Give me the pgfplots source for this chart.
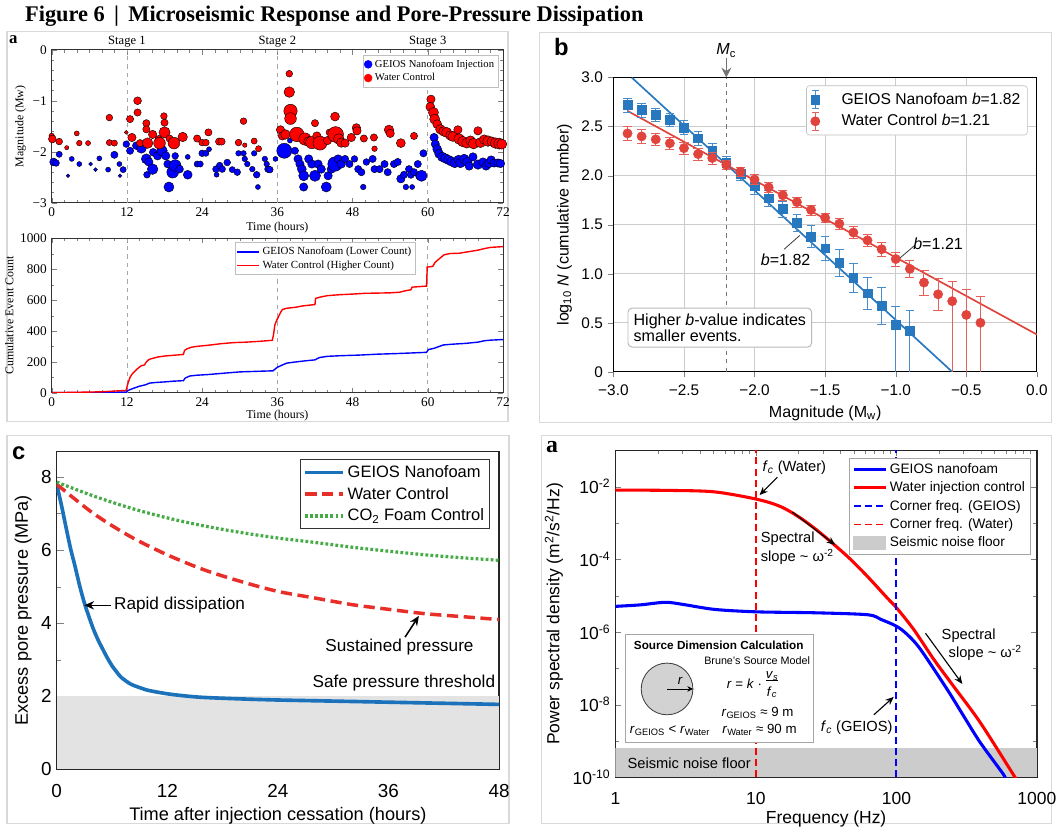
\documentclass[border=0pt]{standalone}
\usepackage{pgfplots}
\pgfplotsset{compat=1.18}
\usepackage{pgfplotstable}
\usepackage{fontspec}
\setmainfont{Liberation Sans}
\newfontfamily\tnr{Liberation Serif}
\usetikzlibrary{arrows.meta}
\definecolor{bblue}{RGB}{40,120,192}
\definecolor{bred}{RGB}{224,68,60}
\definecolor{cblue}{RGB}{28,114,186}
\definecolor{cred}{RGB}{232,46,40}
\definecolor{cgreen}{RGB}{70,170,70}
\newcommand{\fs}[1]{\fontsize{#1}{#1}\selectfont}
\pgfplotsset{errleg/.style={legend image code/.code={%
  \draw[#1!85, line width=0.7pt] (0.3cm,-2.2mm) -- (0.3cm,2.2mm) (0.22cm,-2.2mm) -- (0.38cm,-2.2mm) (0.22cm,2.2mm) -- (0.38cm,2.2mm);
  \draw[mark repeat=2,mark phase=2,##1] plot coordinates {(0cm,0cm) (0.3cm,0cm) (0.6cm,0cm)};}}}

\pgfplotstableread{
x y s
0 -1.69 2
0.1 -1.75 2.8
1.2 -1.80 2.4
2.4 -1.92 1.5
4.0 -1.64 1.8
4.4 -1.83 2
5.8 -1.83 1.8
9.2 -1.33 2.4
9.2 -1.82 2.2
10.0 -1.83 2.2
11.9 -1.62 1.4
12.5 -1.36 2.6
12.8 -1.72 3
13.7 -1.00 2.8
13.7 -1.23 2.6
14.1 -1.83 2.6
15.1 -1.44 2.6
15.1 -1.56 2.6
15.3 -1.83 3.8
16.1 -1.66 3
17.1 -1.75 2.6
17.2 -1.83 4.2
17.9 -1.30 2.4
18.0 -1.43 2.6
18.0 -1.62 4
18.8 -1.74 2.6
19.5 -1.83 4.2
20.9 -1.71 3.4
23.2 -1.74 2.6
24.0 -1.82 2.4
24.6 -1.82 2.4
25.0 -1.62 2.6
26.7 -1.80 2.6
27.1 -1.80 2.6
29.8 -1.82 2.4
30.6 -1.40 2.4
30.8 -1.87 1.6
32.3 -1.79 2.2
33.0 -1.94 2.2
36.5 -1.57 3
36.8 -1.69 3
37.3 -1.66 3.4
37.9 -0.47 2.4
37.9 -0.83 3.8
38.1 -1.20 4.8
38.1 -1.35 4.2
39.1 -1.66 5.2
40.4 -1.75 4.4
41.0 -1.80 3.6
41.5 -1.82 4.4
42.0 -1.44 2.6
42.3 -1.69 3
42.8 -1.83 5
44.0 -1.78 3
44.3 -1.62 2.4
45.2 -1.31 3.2
45.3 -1.66 5.6
45.8 -1.75 3.8
46.2 -1.82 3.4
46.8 -1.83 3
47.8 -1.72 3
48.6 -1.53 3
48.7 -1.59 3
49.8 -1.74 2.6
51.4 -1.72 2.6
51.5 -1.94 2
53.8 -1.57 3.4
54.0 -1.64 3
55.7 -1.83 3.2
57.8 -1.69 2.6
60.5 -0.97 3
60.4 -1.12 3.2
60.9 -1.23 3.6
61.1 -1.36 3.6
61.5 -1.46 3.2
62.0 -1.56 3.4
62.5 -1.60 3.4
63.0 -1.62 3.6
63.6 -1.68 3.4
64.0 -1.70 3.6
64.8 -1.57 3
65.0 -1.75 3.8
65.6 -1.80 3.8
66.2 -1.83 3.6
66.8 -1.78 3.4
67.3 -1.84 3.8
68.0 -1.59 3
68.4 -1.82 3.6
69.0 -1.76 3.4
69.6 -1.79 3.8
70.2 -1.80 3.4
70.8 -1.83 3.8
71.4 -1.84 4
71.8 -1.85 3.6
}\redpts

\pgfplotstableread{
x y s
0.3 -2.20 2.8
0.7 -2.22 2.4
1.2 -2.05 2.2
2.6 -2.47 1.3
3.2 -2.14 1.8
4.4 -2.24 1.8
6.2 -2.24 1.4
7.0 -2.35 1.4
7.6 -2.13 1.8
9.0 -2.35 1.8
10.0 -2.06 2.6
10.8 -2.24 1.8
10.9 -2.47 1.3
11.4 -2.35 2.2
11.9 -1.85 2.4
12.5 -1.98 2.6
13.5 -1.88 2.8
14.3 -1.93 3.6
15.1 -2.14 3.6
15.2 -2.45 2.4
15.5 -2.20 3
16.1 -2.34 3.8
16.2 -2.01 2.8
16.9 -2.08 3
17.6 -1.98 3.8
18.2 -2.08 3
18.5 -2.24 2.8
18.7 -2.69 3.6
19.3 -2.40 4.2
19.7 -2.27 4.2
19.7 -2.08 2.4
20.4 -2.34 2.8
21.7 -2.45 3.2
21.7 -2.10 1.8
23.2 -2.24 2.2
23.7 -2.24 2.2
24.0 -2.03 2.4
24.6 -2.03 2.2
25.1 -1.95 1.8
26.2 -2.34 2.4
26.3 -2.45 1.8
26.8 -2.27 2.4
27.2 -2.34 2.4
28.0 -2.21 2.4
28.8 -2.35 2.2
29.6 -2.40 2.4
29.8 -2.03 2
30.6 -2.03 2
30.8 -2.14 2
31.2 -2.24 2
32.0 -2.34 2
32.3 -2.03 2
32.7 -2.45 2.4
32.9 -2.69 1.8
34.0 -2.14 2
34.3 -2.24 2
34.5 -2.34 2.4
34.8 -2.35 2.4
35.7 -2.14 1.8
37.1 -1.98 5.4
38.0 -1.78 1.8
38.8 -1.98 2.6
39.3 -2.14 3
39.6 -2.24 3
39.9 -2.34 3.2
40.2 -2.47 3.6
40.2 -2.69 3
41.0 -2.14 3
41.5 -2.24 3
42.0 -2.47 4
42.5 -2.24 3
43.0 -2.34 3
43.8 -2.69 3.6
44.1 -2.47 3
44.6 -2.34 3
45.2 -2.24 5.2
45.7 -2.14 3
46.2 -2.24 3
46.8 -2.14 2.6
47.5 -2.24 2.6
48.3 -2.14 2.4
48.9 -2.34 2.6
49.4 -2.40 2.6
49.7 -2.69 2
50.2 -2.20 2.4
51.2 -2.14 2.6
51.5 -2.34 2.6
52.3 -2.34 2.6
53.1 -2.24 2.6
53.6 -2.40 2.6
54.6 -2.24 2.6
55.2 -2.20 2.6
55.7 -2.53 3
56.2 -2.45 2.6
56.5 -2.69 2
57.0 -2.34 2.6
57.3 -2.45 2.6
57.5 -2.69 1.8
57.8 -2.40 2.6
58.4 -2.24 2.6
58.7 -2.47 3
59.0 -2.47 4
59.3 -2.03 2.6
61.0 -1.72 3
61.2 -1.85 3
61.5 -1.95 3.2
61.8 -2.04 3.2
62.3 -2.10 3.4
62.8 -2.13 3.4
63.3 -2.16 3.4
63.8 -2.19 3.4
64.3 -2.22 3.4
64.9 -2.16 3.4
65.2 -2.22 3.4
65.8 -2.14 3.4
66.3 -2.20 3.4
66.6 -2.28 3
67.2 -2.10 3
68.0 -2.25 3.4
68.8 -2.20 3
69.3 -2.28 3
69.8 -2.22 3.4
70.1 -2.16 3
70.6 -2.22 3
71.2 -2.22 3
71.6 -2.23 3
}\bluepts

\pgfplotstableread{
x y
0 0
6 4
8 6
11.9 15
12.05 45
12.2 65
12.5 100
12.9 125
13.3 140
13.8 160
14.3 175
14.8 180
15.1 200
15.5 215
16 222
17 232
18 238
19.5 243
21 248
21.2 275
21.6 285
22.3 295
23 300
25 308
27 318
29 325
31 328
33 333
35.2 340
35.4 380
35.6 440
35.9 470
36.2 495
36.5 520
36.8 540
37.5 548
39 555
40 563
42 572
42.1 612
43 622
44 630
46 636
48 640
50 645
54 648
55.5 652
56.5 662
57.3 668
57.5 685
59.8 692
59.9 815
60.8 820
61.1 842
61.5 858
62 875
62.6 895
63.5 903
65 905
66.5 915
68 925
69 935
70 943
72 948
}\redcum

\pgfplotstableread{
x y
0 0
6 1
11.9 4
12.2 15
13 28
14 42
15 52
15.6 62
16.5 66
18 70
19.5 75
21 78
21.3 95
22 108
23 113
25 118
27 125
30 135
33 139
35.3 142
36 165
36.8 180
37.5 192
39 200
40.5 207
42 213
42.7 228
44 236
46 240
49 244
52 250
55 254
57.5 258
59.8 262
60.1 280
61 288
61.8 300
62.5 310
64 315
66 320
68 328
69 337
70 341
72 345
}\bluecum

\pgfplotstableread{
x y ep em
-2.9 2.72 0.07 0.07
-2.8 2.67 0.07 0.07
-2.7 2.62 0.07 0.07
-2.6 2.57 0.07 0.07
-2.5 2.49 0.07 0.07
-2.4 2.38 0.07 0.07
-2.3 2.26 0.07 0.07
-2.2 2.13 0.07 0.07
-2.1 2.02 0.07 0.07
-2.0 1.89 0.08 0.08
-1.9 1.77 0.08 0.08
-1.8 1.66 0.08 0.08
-1.7 1.52 0.09 0.09
-1.6 1.38 0.11 0.11
-1.5 1.26 0.12 0.12
-1.4 1.11 0.14 0.14
-1.3 0.96 0.15 0.15
-1.2 0.80 0.16 0.16
-1.1 0.67 0.19 0.19
-1.0 0.48 0.19 0.48
-0.9 0.42 0.21 0.42
}\bgeios

\pgfplotstableread{
x y ep em
-2.9 2.43 0.07 0.07
-2.8 2.40 0.07 0.07
-2.7 2.37 0.06 0.06
-2.6 2.33 0.06 0.06
-2.5 2.28 0.06 0.06
-2.4 2.22 0.06 0.06
-2.3 2.18 0.06 0.06
-2.2 2.11 0.05 0.05
-2.1 2.04 0.05 0.05
-2.0 1.96 0.05 0.05
-1.9 1.88 0.05 0.05
-1.8 1.80 0.05 0.05
-1.7 1.73 0.05 0.05
-1.6 1.65 0.05 0.05
-1.5 1.57 0.05 0.05
-1.4 1.51 0.06 0.06
-1.3 1.42 0.06 0.06
-1.2 1.34 0.06 0.06
-1.1 1.25 0.07 0.07
-1.0 1.15 0.07 0.07
-0.9 1.05 0.09 0.09
-0.8 0.91 0.13 0.13
-0.7 0.79 0.16 0.16
-0.6 0.72 0.20 0.72
-0.5 0.58 0.26 0.58
-0.4 0.50 0.27 0.50
}\bwater

\begin{document}
\begin{tikzpicture}
\begin{scope}[x=0.25mm,y=-0.25mm]
\useasboundingbox (0,0) rectangle (1061,829);
% panel frames
\draw[gray!30, line width=0.8pt] (7,32) rectangle (511,424);
\draw[gray!30, line width=0.8pt] (543,33) rectangle (1058,425);
\draw[gray!30, line width=0.8pt] (7,438) rectangle (512,828.6);
\draw[gray!30, line width=0.8pt] (545,438) rectangle (1058,828.6);
% title
\node[anchor=base west, font=\tnr\bfseries\fs{16}, inner sep=0] at (25,22) {Figure 6 \,|\, Microseismic Response and Pore-Pressure Dissipation};
% panel letters
\node[anchor=base west, font=\tnr\bfseries\fs{12}, inner sep=0] at (9,44) {a};
\node[anchor=base west, font=\bfseries\fs{17}, inner sep=0] at (557,56) {b};
\node[anchor=base west, font=\bfseries\fs{17}, inner sep=0] at (12,462) {c};
\node[anchor=base west, font=\tnr\bfseries\fs{17}, inner sep=0] at (549,455) {a};
\end{scope}

%================ Panel a (top) ================
\begin{axis}[at={(13mm,-12.5mm)}, anchor=north west, scale only axis,
  width=113.5mm, height=38.5mm,
  xmin=0, xmax=72, ymin=-3, ymax=0,
  xtick={0,12,...,72}, xticklabels={0,12,24,36,48,60,72},
  ytick={-3,-2,-1,0}, yticklabels={−3,−2,−1,0},
  minor x tick num=5, minor y tick num=4,
  tick align=inside, tick pos=both,
  major tick length=3.5pt, minor tick length=2pt,
  ticklabel style={font=\tnr\fs{9.5}},
  xlabel={Time (hours)}, ylabel={Magnitude (Mw)},
  label style={font=\tnr\fs{8.5}},
  xlabel style={yshift=3pt}, ylabel style={yshift=-2pt},
  axis line style={black!80, line width=0.6pt},
  clip mode=individual,
  legend style={at={(0.99,0.965)}, anchor=north east, font=\tnr\fs{7.6}, draw=gray!50, inner sep=1pt, row sep=-1pt},
  legend cell align=left]
\addlegendimage{only marks, mark=*, mark size=2.8pt, mark options={fill=blue, draw=blue}}
\addlegendentry{GEIOS Nanofoam Injection}
\addlegendimage{only marks, mark=*, mark size=2.8pt, mark options={fill=red, draw=red}}
\addlegendentry{Water Control}
\draw[gray!70, dashed, line width=0.6pt] (axis cs:12,-3) -- (axis cs:12,0);
\draw[gray!70, dashed, line width=0.6pt] (axis cs:36,-3) -- (axis cs:36,0);
\draw[gray!70, dashed, line width=0.6pt] (axis cs:60,-3) -- (axis cs:60,0);
\addplot[scatter, only marks, mark=*, forget plot,
  scatter/use mapped color={draw=black, fill=blue},
  visualization depends on={\thisrow{s}\as\msz},
  scatter/@pre marker code/.append style={/tikz/mark size=\msz},
  mark options={line width=0.3pt}] table[x=x,y=y] \bluepts;
\addplot[scatter, only marks, mark=*, forget plot,
  scatter/use mapped color={draw=black, fill=red},
  visualization depends on={\thisrow{s}\as\msz},
  scatter/@pre marker code/.append style={/tikz/mark size=\msz},
  mark options={line width=0.3pt}] table[x=x,y=y] \redpts;
\node[font=\tnr\fs{9}, anchor=base] at (axis cs:12,0.1) {Stage 1};
\node[font=\tnr\fs{9}, anchor=base] at (axis cs:36,0.1) {Stage 2};
\node[font=\tnr\fs{9}, anchor=base] at (axis cs:60,0.1) {Stage 3};
\end{axis}

%================ Panel a (bottom) ================
\begin{axis}[at={(13mm,-60mm)}, anchor=north west, scale only axis,
  width=113.5mm, height=38.75mm,
  xmin=0, xmax=72, ymin=0, ymax=1000,
  xtick={0,12,...,72}, xticklabels={0,12,24,36,48,60,72},
  ytick={0,200,...,1000}, yticklabels={0,200,400,600,800,1000},
  minor x tick num=5, minor y tick num=1,
  tick align=inside, tick pos=both,
  major tick length=3.5pt, minor tick length=2pt,
  ticklabel style={font=\tnr\fs{9.5}},
  xlabel={Time (hours)}, ylabel={Cumulative Event Count},
  label style={font=\tnr\fs{8.5}},
  xlabel style={yshift=4pt}, ylabel style={yshift=-2pt},
  axis line style={black!80, line width=0.6pt},
  clip mode=individual,
  legend style={at={(0.606,0.975)}, anchor=north, font=\tnr\fs{7.8}, draw=gray!50, inner sep=1pt, row sep=-1pt},
  legend cell align=left,
  legend image code/.code={\draw[#1] (0mm,0mm) -- (5.5mm,0mm);}]
\draw[gray!70, dashed, line width=0.6pt] (axis cs:12,0) -- (axis cs:12,1000);
\draw[gray!70, dashed, line width=0.6pt] (axis cs:36,0) -- (axis cs:36,1000);
\draw[gray!70, dashed, line width=0.6pt] (axis cs:60,0) -- (axis cs:60,1000);
\addplot[blue, line width=1pt] table[x=x,y=y] \bluecum;
\addlegendentry{GEIOS Nanofoam (Lower Count)}
\addplot[red, line width=1pt] table[x=x,y=y] \redcum;
\addlegendentry{Water Control (Higher Count)}
\end{axis}

%================ Panel b ================
\begin{axis}[at={(154.25mm,-19.5mm)}, anchor=north west, scale only axis,
  width=106.5mm, height=74mm,
  xmin=-3, xmax=0, ymin=0, ymax=3,
  xtick={-3,-2.5,...,0}, xticklabels={−3.0,−2.5,−2.0,−1.5,−1.0,−0.5,0.0},
  ytick={0,0.5,...,3}, yticklabels={0,0.5,1.0,1.5,2.0,2.5,3.0},
  grid=major, grid style={gray!40, line width=0.6pt},
  tick align=outside, tick pos=left, major tick length=4pt,
  ticklabel style={font=\fs{11}},
  xticklabel style={yshift=-2pt},
  xlabel={Magnitude (M\textsubscript{w})},
  ylabel={log\textsubscript{10} \textit{N} (cumulative number)},
  label style={font=\fs{11.5}},
  axis line style={black, line width=0.8pt},
  clip mode=individual,
  legend style={at={(0.978,0.973)}, anchor=north east, font=\fs{11.2}, draw=gray!50, rounded corners=2pt, row sep=2pt, inner sep=3pt},
  legend cell align=left]
\draw[gray!90!black, dashed, line width=1.1pt] (axis cs:-2.2,0) -- (axis cs:-2.2,3);
\draw[-{Stealth[length=7pt,width=7pt]}, gray!90!black, line width=1.1pt] (axis cs:-2.2,3.2) -- (axis cs:-2.2,3.0);
\node[font=\fs{11.5}, anchor=base] at (axis cs:-2.2,3.23) {\textit{M}\textsubscript{c}};
\addplot[bblue, line width=1.2pt, forget plot] coordinates {(-2.87,3.0) (-0.6,0)};
\addplot[bred, line width=1.2pt, forget plot] coordinates {(-2.9,2.66) (0,0.38)};
\addplot[only marks, mark=square*, mark size=3.1pt, color=bblue, errleg=bblue,
  error bars/.cd, y dir=both, y explicit, error bar style={line width=0.7pt, bblue!85}]
  table[x=x, y=y, y error plus=ep, y error minus=em] \bgeios;
\addlegendentry{\hspace{1.2em}GEIOS Nanofoam \textit{b}=1.82}
\addplot[only marks, mark=*, mark size=3.3pt, color=bred, errleg=bred,
  error bars/.cd, y dir=both, y explicit, error bar style={line width=0.7pt, bred!85}]
  table[x=x, y=y, y error plus=ep, y error minus=em] \bwater;
\addlegendentry{\hspace{1.2em}Water Control \textit{b}=1.21}
\draw[black!75, line width=0.6pt] (axis cs:-1.68,1.39) -- (axis cs:-1.79,1.25);
\node[font=\fs{11.5}] at (axis cs:-1.78,1.14) {\textit{b}=1.82};
\draw[black!75, line width=0.6pt] (axis cs:-0.865,1.29) -- (axis cs:-0.97,1.16);
\node[font=\fs{11.5}] at (axis cs:-0.70,1.31) {\textit{b}=1.21};
\node[draw=gray!55, rounded corners=3pt, fill=white, align=left, anchor=north west,
  font=\fs{11.5}, inner sep=4pt, line width=0.7pt] at (axis cs:-2.9,0.655)
  {Higher \textit{b}-value indicates\\smaller events.};
\end{axis}

%================ Panel c ================
\begin{axis}[at={(14.25mm,-113.5mm)}, anchor=north west, scale only axis,
  width=111.25mm, height=80mm,
  xmin=0, xmax=48, ymin=0, ymax=8.7,
  xtick={0,12,...,48}, xticklabels={0,12,24,36,48},
  ytick={0,2,...,8}, yticklabels={0,2,4,6,8},
  minor x tick num=5, minor y tick num=1,
  tick align=inside, tick pos=left,
  major tick length=5pt, minor tick length=3pt,
  ticklabel style={font=\fs{13.5}},
  xticklabel style={yshift=-7pt},
  xlabel={Time after injection cessation (hours)},
  ylabel={Excess pore pressure (MPa)},
  label style={font=\fs{13}},
  axis line style={black!85, line width=0.9pt},
  clip mode=individual,
  legend style={at={(0.98,0.975)}, anchor=north east, font=\fs{11.8}, draw=black!80, line width=0.8pt, inner sep=2pt, row sep=1.5pt},
  legend cell align=left,
  legend image code/.code={\draw[#1] (0mm,0mm) -- (9.5mm,0mm);}]
\addplot[fill=gray!22, draw=none, forget plot] coordinates {(0,0) (0,2) (48,2) (48,0)};
\addplot[cblue, line width=2.6pt, smooth] coordinates {
(0,7.8) (0.5,7.25) (1,6.64) (1.5,6.05) (2,5.55) (2.5,5.02) (3,4.56) (3.5,4.18) (4,3.83)
(4.5,3.54) (5,3.29) (5.5,3.05) (6,2.84) (6.5,2.67) (7,2.52) (8,2.34) (9,2.24) (10,2.16)
(12,2.07) (14,2.01) (16,1.97) (20,1.93) (24,1.90) (30,1.87) (36,1.84) (42,1.81) (48,1.78)};
\addlegendentry{GEIOS Nanofoam}
\addplot[cred, line width=2.5pt, dash pattern=on 8pt off 4pt, smooth] coordinates {
(0,7.8) (4,7.0) (8,6.37) (12,5.87) (16,5.46) (20,5.14) (24,4.87) (28,4.69) (32,4.51)
(36,4.38) (40,4.26) (44,4.18) (48,4.10)};
\addlegendentry{Water Control}
\addplot[cgreen, line width=2.3pt, dash pattern=on 2pt off 1.6pt, smooth] coordinates {
(0,7.86) (4,7.48) (8,7.15) (12,6.88) (16,6.66) (20,6.48) (24,6.33) (28,6.21) (32,6.08)
(36,5.97) (40,5.87) (44,5.79) (48,5.72)};
\addlegendentry{CO\textsubscript{2} Foam Control}
\draw[-{Stealth[length=7pt,width=6pt]}, line width=1.1pt] (axis cs:5.9,4.49) -- (axis cs:3.0,4.49);
\node[anchor=west, font=\fs{12.3}, inner sep=0] at (axis cs:6.2,4.49) {Rapid dissipation};
\draw[-{Stealth[length=7pt,width=6pt]}, line width=1.1pt] (axis cs:37.8,3.62) -- (axis cs:39.3,4.2);
\node[font=\fs{12.3}] at (axis cs:37.2,3.36) {Sustained pressure};
\node[anchor=east, font=\fs{12.3}, inner sep=0] at (axis cs:47.6,2.36) {Safe pressure threshold};
\end{axis}

%================ Panel d ================
\begin{axis}[at={(154.75mm,-113.25mm)}, anchor=north west, scale only axis,
  width=106mm, height=82.25mm,
  xmode=log, ymode=log,
  xmin=1, xmax=1000, ymin=1e-10, ymax=1e-1,
  xtick={1,10,100,1000}, xticklabels={1,10,100,1000},
  minor xtick={2,3,4,5,6,7,8,9,20,30,40,50,60,70,80,90,200,300,400,500,600,700,800,900},
  ytick={1e-10,1e-8,1e-6,1e-4,1e-2},
  yticklabels={10\textsuperscript{-10},10\textsuperscript{-8},10\textsuperscript{-6},10\textsuperscript{-4},10\textsuperscript{-2}},
  minor ytick={1e-9,1e-7,1e-5,1e-3},
  tick align=inside, tick pos=both,
  major tick length=4pt, minor tick length=2.5pt,
  ticklabel style={font=\fs{12.5}},
  xticklabel style={yshift=-7pt},
  xlabel={Frequency (Hz)},
  ylabel={Power spectral density (m\textsuperscript{2}/s\textsuperscript{2}/Hz)},
  label style={font=\fs{12.5}},
  xlabel style={yshift=2pt},
  axis line style={black!85, line width=0.9pt},
  clip mode=individual,
  legend style={at={(0.986,0.978)}, anchor=north east, font=\fs{9.8}, draw=gray!70, line width=0.7pt, inner sep=2pt, row sep=0.5pt, fill=white},
  legend cell align=left,
  legend image code/.code={\draw[#1] (0mm,0mm) -- (8mm,0mm);}]
\addplot[fill=gray!40, draw=none, forget plot] coordinates {(1,1e-10) (1,6.5e-10) (1000,6.5e-10) (1000,1e-10)};
\addplot[blue, line width=2.2pt, smooth] coordinates {
(1,5.1e-6) (1.5,5.6e-6) (2.26,6.6e-6) (3,5.8e-6) (5.1,4.2e-6) (10.2,3.6e-6) (26,3.4e-6)
(62.2,3.0e-6) (77.4,2.24e-6) (100,1.45e-6) (119,8.7e-7) (148,3.4e-7) (229,2.7e-8)
(300,5.0e-9) (394,9.3e-10) (574,1.26e-10) (590,1e-10)};
\addlegendentry{GEIOS nanofoam}
\addplot[red, line width=2.2pt, smooth] coordinates {
(1,8.1e-3) (2.5,7.9e-3) (5.1,7.2e-3) (10.2,4.5e-3) (15.1,2.8e-3) (20.9,1.35e-3)
(29,5.2e-4) (44.9,1.2e-4) (62.2,3.4e-5) (86,8.7e-6) (100,4.7e-6) (133,1.17e-6)
(184,1.8e-7) (254,3.3e-8) (394,3.3e-9) (674,1.26e-10) (700,1e-10)};
\addlegendentry{Water injection control}
\addplot[blue, line width=1.3pt, dash pattern=on 5pt off 3pt] coordinates {(100,1e-10) (100,1e-1)};
\addlegendentry{Corner freq. (GEIOS)}
\addplot[red, line width=1.3pt, dash pattern=on 5pt off 3pt] coordinates {(10,1e-10) (10,1e-1)};
\addlegendentry{Corner freq. (Water)}
\addlegendimage{legend image code/.code={\fill[gray!40] (0mm,-1.6mm) rectangle (8mm,1.6mm);}}
\addlegendentry{Seismic noise floor}
\end{axis}

\begin{scope}[x=0.25mm,y=-0.25mm]
% panel d annotations (pixel coordinates)
\node[font=\fs{10.5}] at (799,470) {\textit{f}\textsubscript{\textit{c}} (Water)};
\draw[-{Stealth[length=6pt,width=5pt]}, line width=0.8pt] (782,480) -- (764,498);
\node[font=\fs{10.5}, anchor=west, align=left, inner sep=0] at (765,542) {Spectral};
\node[font=\fs{10.5}, anchor=west, inner sep=0] at (765,560) {slope \textasciitilde\ ω\textsuperscript{-2}};
\draw[-{Stealth[length=6pt,width=5pt]}, line width=0.8pt] (797,515) -- (840,548);
\node[font=\fs{10.5}, anchor=west, inner sep=0] at (947,639) {Spectral};
\node[font=\fs{10.5}, anchor=west, inner sep=0] at (954,657) {slope \textasciitilde\ ω\textsuperscript{-2}};
\draw[-{Stealth[length=6pt,width=5pt]}, line width=0.8pt] (931,637) -- (968,688);
\node[font=\fs{10.5}, anchor=east, inner sep=0] at (898,732) {\textit{f}\textsubscript{\textit{c}} (GEIOS)};
\draw[-{Stealth[length=6pt,width=5pt]}, line width=0.8pt] (879,719) -- (899,701);
\node[font=\fs{10.5}, anchor=west, inner sep=0] at (631,768) {Seismic noise floor};
% inset
\draw[gray!70, fill=white, line width=0.7pt] (629,638) rectangle (818,747);
\node[font=\bfseries\fs{8.4}] at (723,649) {Source Dimension Calculation};
\node[font=\fs{7.7}, anchor=east, inner sep=0] at (815,665) {Brune's Source Model};
\draw[black!75, fill=gray!35, line width=0.6pt] (671,693) circle[radius=6.5mm];
\draw[-{Stealth[length=4pt,width=4pt]}, line width=0.6pt] (671,693) -- (697,693);
\node[font=\itshape\fs{9.5}] at (684,685) {r};
\node[font=\fs{9.5}] at (757,689) {\textit{r} = \textit{k} · \begin{tabular}{@{}c@{}}\textit{v}\textsubscript{\textit{s}}\\[-2pt]\hline\rule{0pt}{2.3ex}\textit{f}\textsubscript{\textit{c}}\end{tabular}};
\node[font=\fs{9.5}] at (762,717) {\textit{r}\textsubscript{GEIOS} ≈ 9 m};
\node[font=\fs{9.5}] at (764,734) {\textit{r}\textsubscript{Water} ≈ 90 m};
\node[font=\fs{9.5}] at (674,735) {\textit{r}\textsubscript{GEIOS} < \textit{r}\textsubscript{Water}};
\end{scope}
\end{tikzpicture}
\end{document}
